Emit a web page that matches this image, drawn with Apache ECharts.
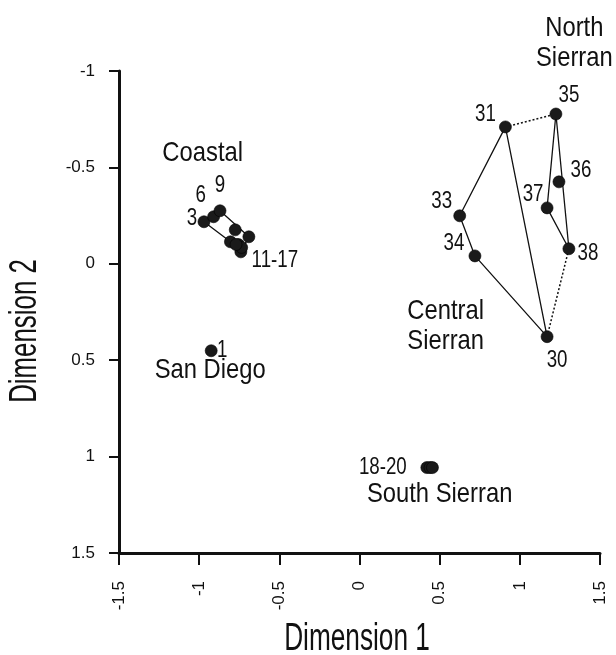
<!DOCTYPE html>
<html>
<head>
<meta charset="utf-8">
<script src="https://cdn.jsdelivr.net/npm/echarts@6/dist/echarts.min.js"></script>
<style>
  html, body { margin: 0; background: #fff; }
  #chart { width: 616px; height: 655px; }
</style>
</head>
<body>
<div id="chart"></div>
<script>
// site ids and their MDS coordinates
const sites = ['1', '3', '6', '9', '11', '12', '13', '14', '15', '16', '17', '18', '19', '20',
  '30', '31', '33', '34', '35', '36', '37', '38'];
const dim1 = [-0.925, -0.97, -0.91, -0.87, -0.775, -0.805, -0.755, -0.69, -0.74, -0.735, -0.77,
  0.42, 0.44, 0.455, 1.17, 0.91, 0.625, 0.72, 1.225, 1.244, 1.17, 1.306];
const dim2 = [0.451, -0.218, -0.244, -0.275, -0.176, -0.114, -0.1, -0.14, -0.062, -0.085, -0.1,
  1.057, 1.057, 1.057, 0.378, -0.71, -0.249, -0.041, -0.777, -0.425, -0.29, -0.078];

// number shown next to a site (only some sites carry one)
const labelSites = ['1', '3', '6', '9', '15', '18', '30', '31', '33', '34', '35', '36', '37', '38'];
const labelTexts = ['1', '3', '6', '9', '11-17', '18-20', '30', '31', '33', '34', '35', '36', '37', '38'];

// outlines around the groups
const hullSolid = [['3', '9', '14', '15', '12', '3'], ['31', '33', '34', '30', '31'], ['35', '37', '38', '35']];
const hullDotted = [['31', '35'], ['30', '38']];

// region names and where they sit (data units)
const regionNames = ['Coastal', 'San Diego', 'South Sierran', 'Central\nSierran', 'North\nSierran'];
const regionAt = [[-0.978, -0.575], [-0.931, 0.554], [0.5, 1.197], [0.5375, 0.324], [1.34, -1.142]];

const xTicks = { min: -1.5, max: 1.5, step: 0.5 };
const yTicks = { min: -1, max: 1.5, step: 0.5 };

// label placement, pixels from the dot centre
const labelOffset = {
  '1': [11, 0], '3': [-12, -3], '6': [-13, -21], '9': [0, -25], '15': [34, 9], '18': [-44, 0],
  '30': [10, 24], '31': [-20, -13], '33': [-18, -14], '34': [-21, -13], '35': [13, -19],
  '36': [22, -11], '37': [-14, -14], '38': [19, 5]
};

const sans = '"Liberation Sans", Arial, sans-serif';
const ink = '#111';

function coord(id) {
  const i = sites.indexOf(id);
  return [dim1[i], dim2[i]];
}

// the original uses a condensed face, so text is squeezed horizontally
function squeezedText(size, squeeze, lineHeight) {
  return function (params, api) {
    const p = api.coord([api.value(0), api.value(1)]);
    const off = params.seriesName === 'nums' ? labelOffset[labelSites[params.dataIndex]] : [0, 0];
    const txt = params.seriesName === 'nums' ? labelTexts[params.dataIndex] : regionNames[params.dataIndex];
    return {
      type: 'text',
      x: p[0] + off[0],
      y: p[1] + off[1],
      scaleX: squeeze,
      style: {
        text: txt, fill: ink, font: size + 'px ' + sans,
        align: 'center', verticalAlign: 'middle', lineHeight: lineHeight
      }
    };
  };
}

const series = [];
hullSolid.forEach(function (path) {
  series.push({
    type: 'line', data: path.map(coord), symbol: 'none', silent: true, z: 2,
    lineStyle: { color: ink, width: 1.3 }
  });
});
hullDotted.forEach(function (path) {
  series.push({
    type: 'line', data: path.map(coord), symbol: 'none', silent: true, z: 2,
    lineStyle: { color: ink, width: 1.5, type: [2, 2] }
  });
});

series.push({
  type: 'scatter',
  z: 5,
  symbolSize: 12,
  clip: false,
  itemStyle: { color: '#1a1a1a', opacity: 1, borderColor: '#000', borderWidth: 0.6 },
  data: sites.map(function (s, i) { return { name: s, value: [dim1[i], dim2[i]] }; })
});

series.push({
  type: 'custom',
  name: 'nums',
  z: 6,
  clip: false,
  silent: true,
  data: labelSites.map(coord),
  renderItem: squeezedText(24, 0.78, 24)
});

series.push({
  type: 'custom',
  name: 'regions',
  z: 6,
  clip: false,
  silent: true,
  data: regionAt,
  renderItem: squeezedText(28, 0.85, 30)
});

const chart = echarts.init(document.getElementById('chart'));
chart.setOption({
  backgroundColor: '#fff',
  animation: false,
  grid: { left: 119, right: 16, top: 71, bottom: 102 },
  xAxis: {
    type: 'value',
    min: xTicks.min, max: xTicks.max, interval: xTicks.step,
    position: 'bottom',
    axisLine: { onZero: false, lineStyle: { color: ink, width: 3 } },
    axisTick: { length: 12, lineStyle: { color: ink, width: 2 } },
    axisLabel: { rotate: 90, margin: 28, color: ink, fontSize: 17, fontFamily: sans },
    splitLine: { show: false }
  },
  yAxis: {
    type: 'value',
    inverse: true,
    min: yTicks.min, max: yTicks.max, interval: yTicks.step,
    axisLine: { onZero: false, lineStyle: { color: ink, width: 3 } },
    axisTick: { length: 10, lineStyle: { color: ink, width: 2 } },
    axisLabel: { margin: 24, color: ink, fontSize: 17, fontFamily: sans },
    splitLine: { show: false }
  },
  graphic: [
    {
      type: 'text', x: 26, y: 331, rotation: Math.PI / 2, scaleX: 0.68,
      style: { text: 'Dimension 2', font: '38px ' + sans, fill: ink, align: 'center', verticalAlign: 'middle' }
    },
    {
      type: 'text', x: 357, y: 640, scaleX: 0.69,
      style: { text: 'Dimension 1', font: '38px ' + sans, fill: ink, align: 'center', verticalAlign: 'middle' }
    }
  ],
  series: series
});
</script>
</body>
</html>
